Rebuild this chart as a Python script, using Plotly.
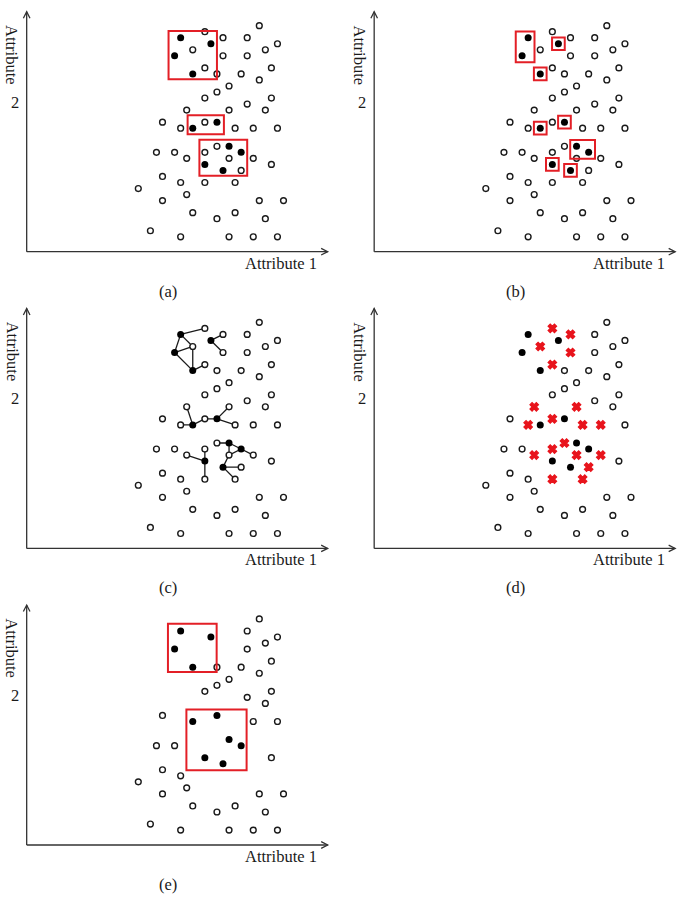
import plotly.graph_objects as go

FIG_W, FIG_H = 685, 900

# ---------------- data (Attribute 1 = x, Attribute 2 = y) ----------------
open_x = [20, 11, 14, 18, 23, 9, 21, 14, 18, 11, 22, 13, 17, 20, 15, 13, 11, 22, 18,
          8, 15, 21, 4, 11, 7, 16, 19, 23, 13, 3, 6, 11, 8, 15, 19, 22, 17, 4,
          7, 11, 16, 0, 8, 4, 20, 24, 9, 16, 13, 21, 2, 7, 15, 19, 23]
open_y = [35, 34, 33, 33, 32, 31, 31, 30, 30, 28, 28, 27, 27, 26, 25, 24, 23, 23, 22,
          21, 21, 21, 19, 19, 18, 18, 18, 18, 15, 14, 14, 14, 13, 13, 13, 12, 11, 10,
          9, 9, 9, 8, 7, 6, 6, 6, 4, 4, 3, 3, 1, 0, 0, 0, 0]

filled_x = [7, 12, 6, 9, 13, 9, 15, 17, 11, 14]
filled_y = [33, 32, 30, 27, 19, 18, 15, 14, 12, 11]

# points marked as removed in (d)
cross_x = [11, 14, 9, 14, 11, 8, 15, 7, 11, 16, 19, 13, 11, 8, 15, 19, 17, 11, 16]
cross_y = [34, 33, 31, 30, 28, 21, 21, 18, 19, 18, 18, 15, 14, 13, 13, 13, 11, 9, 9]

# points absent from (e)
pruned_x = [11, 14, 9, 14, 11, 8, 15, 7, 11, 16, 13, 11, 8, 15, 19, 17, 11, 16]
pruned_y = [34, 33, 31, 30, 28, 21, 21, 18, 19, 18, 15, 14, 13, 13, 13, 11, 9, 9]

# neighbour links in (c): (x1, y1, x2, y2)
edges = [
    (7, 33, 11, 34), (7, 33, 9, 31), (7, 33, 6, 30), (6, 30, 9, 31), (6, 30, 9, 27),
    (9, 31, 9, 27), (9, 27, 11, 28), (12, 32, 14, 33), (12, 32, 14, 30),
    (9, 18, 8, 21), (9, 18, 7, 18), (9, 18, 11, 19), (11, 19, 13, 19),
    (13, 19, 15, 21), (13, 19, 16, 18),
    (11, 12, 8, 13), (11, 12, 11, 14), (11, 12, 11, 9),
    (15, 15, 13, 15), (15, 15, 17, 14), (15, 15, 15, 13), (17, 14, 15, 13),
    (17, 14, 19, 13), (14, 11, 15, 13), (14, 11, 17, 11), (14, 11, 16, 9),
]

# red boxes: (x0, x1, y0, y1)
boxes_a = [(5.0, 13.0, 26.1, 34.1), (8.15, 14.15, 17.0, 20.15), (10.1, 18.0, 10.1, 16.1)]
boxes_e = [(4.9, 12.95, 26.2, 34.2), (7.95, 17.9, 9.9, 20.0)]
b_groups = [[0, 2], [1], [3], [4], [5], [6, 7], [8], [9]]
b_margin = 1.05

panel_labels = ["(a)", "(b)", "(c)", "(d)", "(e)"]
panel_offsets = [(0, 0), (347.5, 0), (0, 296.7), (347.5, 296.7), (0, 593.3)]

# ---------------- geometry ----------------
PW, PH = 337, 296
PX0, SX = 138.3, 6.05     # pixel x of Attribute1=0 inside a panel, px per unit
PY0, SY = 236.8, 6.033    # pixel y of Attribute2=0 inside a panel, px per unit
AX0, AY0 = -18.45, -2.47  # axis origin
XTIP, YTIP = 31.3, 37.3

RED = "#e31f26"
INK = "#1a1a1a"
AXC = "#333333"
FONT = "'Liberation Serif', 'DejaVu Serif', 'Times New Roman', Times, serif"

fig = go.Figure()
layout = dict(width=FIG_W, height=FIG_H, margin=dict(l=0, r=0, t=0, b=0),
              paper_bgcolor="white", plot_bgcolor="white", showlegend=False)
shapes, annotations = [], []

open_pts = list(zip(open_x, open_y))
cross_set = set(zip(cross_x, cross_y))
pruned_set = set(zip(pruned_x, pruned_y))


def add_open(pts, xa, ya):
    fig.add_trace(go.Scatter(x=[p[0] for p in pts], y=[p[1] for p in pts], mode="markers",
                             xaxis=xa, yaxis=ya, hoverinfo="skip",
                             marker=dict(size=5.8, color="white", line=dict(color=INK, width=1.4))))


def add_filled(xa, ya):
    fig.add_trace(go.Scatter(x=filled_x, y=filled_y, mode="markers", xaxis=xa, yaxis=ya,
                             hoverinfo="skip",
                             marker=dict(size=7, color="black", line=dict(width=0))))


for k, (ox, oy) in enumerate(panel_offsets):
    n = k + 1
    xn = "xaxis" if n == 1 else f"xaxis{n}"
    yn = "yaxis" if n == 1 else f"yaxis{n}"
    xa = "x" if n == 1 else f"x{n}"
    ya = "y" if n == 1 else f"y{n}"
    layout[xn] = dict(domain=[ox / FIG_W, (ox + PW) / FIG_W],
                      range=[-PX0 / SX, (PW - PX0) / SX], visible=False, fixedrange=True)
    layout[yn] = dict(domain=[1 - (oy + PH) / FIG_H, 1 - oy / FIG_H],
                      range=[(PY0 - PH) / SY, PY0 / SY], visible=False, fixedrange=True,
                      anchor=xa)

    # axes with open arrowheads
    shapes.append(dict(type="line", xref=xa, yref=ya, x0=AX0, y0=AY0, x1=XTIP, y1=AY0,
                       line=dict(color=AXC, width=1.3)))
    shapes.append(dict(type="line", xref=xa, yref=ya, x0=AX0, y0=AY0, x1=AX0, y1=YTIP,
                       line=dict(color=AXC, width=1.3)))
    al, aw = 6.5, 3.3
    shapes.append(dict(type="path", xref=xa, yref=ya,
                       path=f"M {XTIP - al / SX},{AY0 + aw / SY} L {XTIP},{AY0} L {XTIP - al / SX},{AY0 - aw / SY}",
                       line=dict(color=AXC, width=1.3)))
    shapes.append(dict(type="path", xref=xa, yref=ya,
                       path=f"M {AX0 - aw / SX},{YTIP - al / SY} L {AX0},{YTIP} L {AX0 + aw / SX},{YTIP - al / SY}",
                       line=dict(color=AXC, width=1.3)))

    # text
    annotations.append(dict(xref=xa, yref=ya, x=(319 - PX0) / SX, y=(PY0 - 263) / SY,
                            text="Attribute 1", showarrow=False, xanchor="right", yanchor="middle",
                            font=dict(family=FONT, size=16.5, color=INK)))
    annotations.append(dict(xref=xa, yref=ya, x=(12 - PX0) / SX, y=(PY0 - 55) / SY,
                            text="Attribute", textangle=90, showarrow=False,
                            xanchor="center", yanchor="middle",
                            font=dict(family=FONT, size=16.5, color=INK)))
    annotations.append(dict(xref=xa, yref=ya, x=(14.5 - PX0) / SX, y=(PY0 - 102) / SY,
                            text="2", showarrow=False, xanchor="center", yanchor="middle",
                            font=dict(family=FONT, size=16.5, color=INK)))
    annotations.append(dict(xref=xa, yref=ya, x=(168 - PX0) / SX, y=(PY0 - 291) / SY,
                            text=panel_labels[k], showarrow=False, xanchor="center", yanchor="middle",
                            font=dict(family=FONT, size=16.5, color=INK)))

    if n == 1:
        add_open(open_pts, xa, ya)
        add_filled(xa, ya)
        for (x0, x1, y0, y1) in boxes_a:
            shapes.append(dict(type="rect", xref=xa, yref=ya, x0=x0, x1=x1, y0=y0, y1=y1,
                               line=dict(color=RED, width=2)))
    elif n == 2:
        add_open(open_pts, xa, ya)
        add_filled(xa, ya)
        for g in b_groups:
            gx = [filled_x[i] for i in g]
            gy = [filled_y[i] for i in g]
            shapes.append(dict(type="rect", xref=xa, yref=ya,
                               x0=min(gx) - b_margin, x1=max(gx) + b_margin,
                               y0=min(gy) - b_margin, y1=max(gy) + b_margin,
                               line=dict(color=RED, width=2)))
    elif n == 3:
        ex, ey = [], []
        for (x1, y1, x2, y2) in edges:
            ex += [x1, x2, None]
            ey += [y1, y2, None]
        fig.add_trace(go.Scatter(x=ex, y=ey, mode="lines", xaxis=xa, yaxis=ya, hoverinfo="skip",
                                 line=dict(color=INK, width=1.3)))
        add_open(open_pts, xa, ya)
        add_filled(xa, ya)
    elif n == 4:
        add_open([p for p in open_pts if p not in cross_set], xa, ya)
        fig.add_trace(go.Scatter(x=cross_x, y=cross_y, mode="markers", xaxis=xa, yaxis=ya,
                                 hoverinfo="skip",
                                 marker=dict(symbol="x", size=7.5, color="#e8141c",
                                             line=dict(color="#e8141c", width=1.2))))
        add_filled(xa, ya)
    else:
        add_open([p for p in open_pts if p not in pruned_set], xa, ya)
        add_filled(xa, ya)
        for (x0, x1, y0, y1) in boxes_e:
            shapes.append(dict(type="rect", xref=xa, yref=ya, x0=x0, x1=x1, y0=y0, y1=y1,
                               line=dict(color=RED, width=2)))

layout["shapes"] = shapes
layout["annotations"] = annotations
fig.update_layout(**layout)
fig.write_html("out.html", config={"displayModeBar": False})
